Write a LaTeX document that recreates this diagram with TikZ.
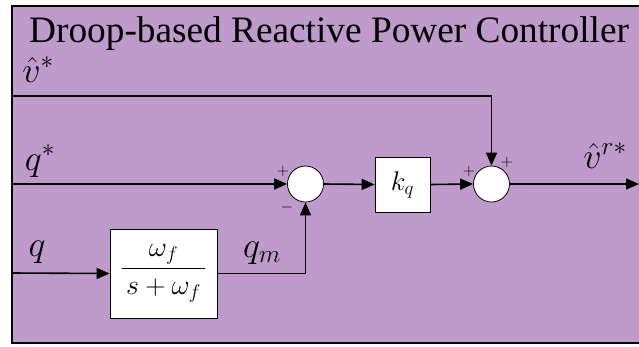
\documentclass[tikz,border=0pt]{standalone}
\usepackage{fix-cm}
\usepackage{amsmath}
\usepackage{fontspec}
\setmainfont{Liberation Serif}
\usetikzlibrary{arrows.meta}
\definecolor{panelpurple}{RGB}{190,155,202}
\tikzset{
  sumnode/.style={circle, draw, thick, fill=white, minimum size=36pt, inner sep=0pt},
  blocknode/.style={rectangle, draw, thick, fill=white, inner sep=0pt},
  signal/.style={line width=1.6pt, -{Triangle[length=13pt,width=11pt]}},
  sign/.style={inner sep=0pt, font=\fontsize{16}{18}\selectfont},
}
\begin{document}
\begin{tikzpicture}[x=1pt, y=-1pt, every node/.style={font=\fontsize{36}{40}\selectfont}]
  \useasboundingbox (0,0) rectangle (639,346);
  \clip (0,0) rectangle (639,346);
  % panel
  \draw[line width=1.5pt, fill=panelpurple] (12,6) rectangle (660,343);
  \node[anchor=base west, inner sep=0pt, font=\fontsize{37.3}{40}\selectfont] (title) at (29,42) {Droop-based Reactive Power Controller};

  % blocks
  \node[sumnode] (sum1) at (305.5,184) {};
  \node[sumnode] (sum2) at (491.5,184) {};
  \node[blocknode, minimum width=55pt, minimum height=55pt, font=\fontsize{27}{30}\selectfont] (gain) at (402.5,184.5) {$k_q$};
  \node[blocknode, minimum width=107pt, minimum height=89pt, font=\fontsize{28}{30}\selectfont] (filt) at (163.5,273.5)
    {$\dfrac{\omega_f}{\,s+\omega_f\,}$};

  % inputs and output
  \coordinate (vin) at (12,96);
  \coordinate (qsin) at (12,184);
  \coordinate (qin) at (12,273);
  \coordinate (vout) at (639,184);

  % signals
  \draw[signal] (vin) -| (sum2.north);
  \draw[signal] (qsin) -- (sum1.west);
  \draw[signal] (sum1.east) -- (gain.west);
  \draw[signal] (gain.east) -- (sum2.west);
  \draw[signal] (sum2.east) -- (vout);
  \draw[signal] (qin) -- (filt.west);
  \draw[signal] (filt.east) -| (sum1.south);

  % labels
  \node[anchor=base, inner sep=0pt] (lvs) at (38,82) {$\hat{v}^{*}$};
  \node[anchor=base, inner sep=0pt] (lqs) at (40,170) {$q^{*}$};
  \node[anchor=base, inner sep=0pt] (lq) at (37,256) {$q$};
  \node[anchor=base, inner sep=0pt] (lqm) at (262,257) {$q_m$};
  \node[anchor=base, inner sep=0pt] (lvr) at (605,168) {$\hat{v}^{r*}$};

  % signs
  \node[sign] (p1) at (283,171) {$+$};
  \node[sign] (m1) at (287,207) {$-$};
  \node[sign] (p2) at (469,171) {$+$};
  \node[sign] (p3) at (507,162) {$+$};
\end{tikzpicture}
\end{document}
